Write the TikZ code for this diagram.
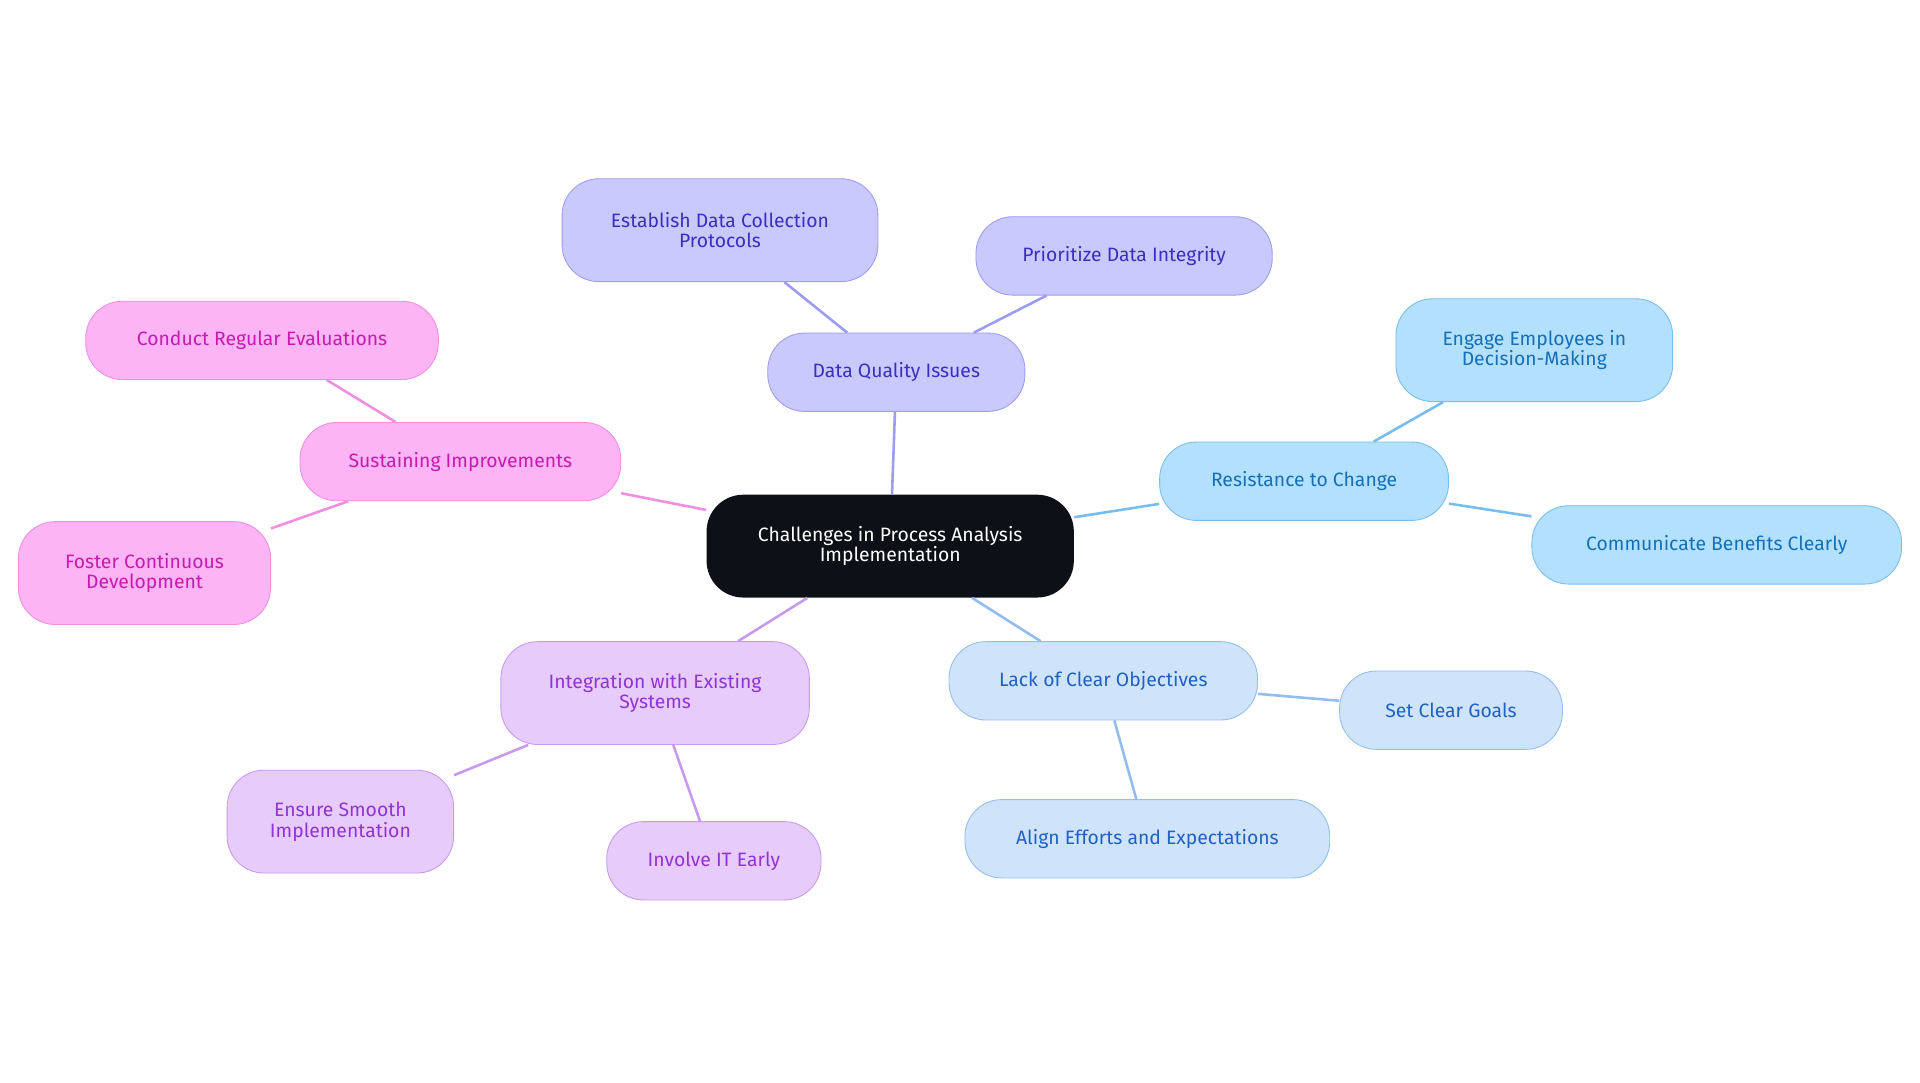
\documentclass[tikz,border=0pt]{standalone}
\usepackage{fontspec}
\setmainfont{Fira Sans}
\definecolor{rootfill}{HTML}{0D1117}
\definecolor{dqfill}{HTML}{C9C9FD}\definecolor{dqline}{HTML}{9C9CF0}\definecolor{dqtext}{HTML}{3A2FC0}
\definecolor{rcfill}{HTML}{B3E0FD}\definecolor{rcline}{HTML}{78BDEE}\definecolor{rctext}{HTML}{1570B8}
\definecolor{lofill}{HTML}{CFE3FB}\definecolor{loline}{HTML}{92BDF0}\definecolor{lotext}{HTML}{1F62C4}
\definecolor{isfill}{HTML}{E6CBFB}\definecolor{isline}{HTML}{C79AF0}\definecolor{istext}{HTML}{9233D4}
\definecolor{sifill}{HTML}{FCB4F4}\definecolor{siline}{HTML}{F08EE0}\definecolor{sitext}{HTML}{C51BB0}
\begin{document}
\begin{tikzpicture}[x=0.02cm,y=-0.02cm,font=\fontsize{9}{9.5}\selectfont]
  \tikzset{every node/.style={rounded corners=0.6cm, align=center, inner sep=2pt, minimum height=1.28cm},
           tall/.style={minimum height=1.68cm},
           dq/.style={fill=dqfill, draw=dqline, text=dqtext},
           rc/.style={fill=rcfill, draw=rcline, text=rctext},
           lo/.style={fill=lofill, draw=loline, text=lotext},
           is/.style={fill=isfill, draw=isline, text=istext},
           si/.style={fill=sifill, draw=siline, text=sitext}}
  \useasboundingbox (0,0) rectangle (1568,884);
  \node[fill=rootfill, text=white, tall, minimum width=6cm] (root) at (727,446) {Challenges in Process Analysis\\Implementation};
  \node[dq, minimum width=4.2cm] (dq) at (732,304) {Data Quality Issues};
  \node[dq, tall, minimum width=5.16cm] (dq1) at (588,188) {Establish Data Collection\\Protocols};
  \node[dq, minimum width=4.84cm] (dq2) at (918,209) {Prioritize Data Integrity};
  \node[rc, minimum width=4.72cm] (rc) at (1065,393) {Resistance to Change};
  \node[rc, tall, minimum width=4.52cm] (rc1) at (1253,286) {Engage Employees in\\Decision-Making};
  \node[rc, minimum width=6.04cm] (rc2) at (1402,445) {Communicate Benefits Clearly};
  \node[lo, minimum width=5.04cm] (lo) at (901,556) {Lack of Clear Objectives};
  \node[lo, minimum width=3.64cm] (lo1) at (1185,580) {Set Clear Goals};
  \node[lo, minimum width=5.96cm] (lo2) at (937,685) {Align Efforts and Expectations};
  \node[is, tall, minimum width=5.04cm] (is) at (535,566) {Integration with Existing\\Systems};
  \node[is, tall, minimum width=3.7cm] (is1) at (278,671) {Ensure Smooth\\Implementation};
  \node[is, minimum width=3.5cm] (is2) at (583,703) {Involve IT Early};
  \node[si, minimum width=5.24cm] (si) at (376,377) {Sustaining Improvements};
  \node[si, minimum width=5.76cm] (si1) at (214,278) {Conduct Regular Evaluations};
  \node[si, tall, minimum width=4.12cm] (si2) at (118,468) {Foster Continuous\\Development};
  % connectors
  \begin{scope}[on background layer/.style={}, line width=1.2pt]
    \draw[dqline] (root) -- (dq); \draw[dqline] (dq) -- (dq1); \draw[dqline] (dq) -- (dq2);
    \draw[rcline] (root) -- (rc); \draw[rcline] (rc) -- (rc1); \draw[rcline] (rc) -- (rc2);
    \draw[loline] (root) -- (lo); \draw[loline] (lo) -- (lo1); \draw[loline] (lo) -- (lo2);
    \draw[isline] (root) -- (is); \draw[isline] (is) -- (is1); \draw[isline] (is) -- (is2);
    \draw[siline] (root) -- (si); \draw[siline] (si) -- (si1); \draw[siline] (si) -- (si2);
  \end{scope}
\end{tikzpicture}
\end{document}
